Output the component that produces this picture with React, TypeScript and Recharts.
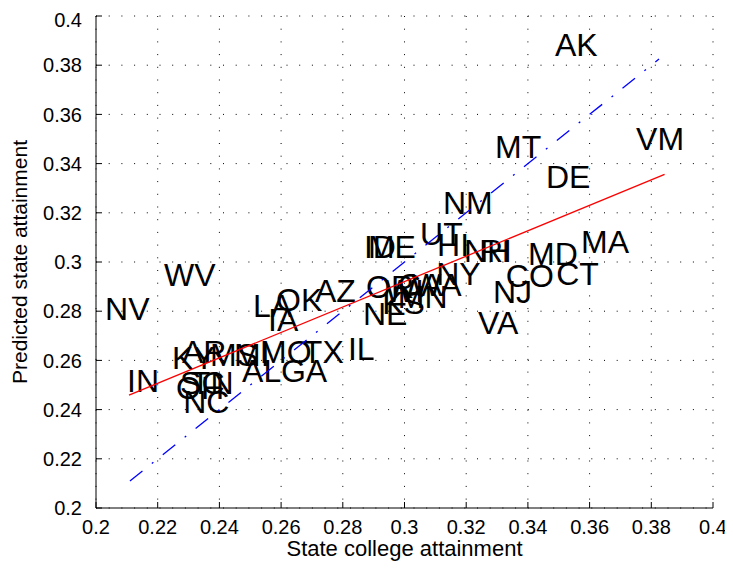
import React from 'react';
import { ScatterChart, Scatter, XAxis, YAxis, CartesianGrid, Label } from 'recharts';

const FONT = '"Liberation Sans", Arial, Helvetica, sans-serif';

const stateCodes = ['AK','VM','MT','DE','NM','UT','HI','NH','RI','MD','MA','CO','CT','NJ','VA','NY','ID','ME','OR','CA','WI','WA','KS','MN','NE','AZ','OK','LA','IA','WV','NV','IN','KY','AR','MS','MI','MO','TX','IL','AL','GA','SC','OH','TN','NC'];
const collegeAttainment = [0.3494,0.3757,0.3300,0.3465,0.3131,0.3057,0.3112,0.3199,0.3251,0.3407,0.3579,0.3335,0.3498,0.3293,0.3245,0.3109,0.2875,0.2888,0.2882,0.2985,0.2943,0.3028,0.2934,0.2985,0.2872,0.2716,0.2590,0.2515,0.2564,0.2227,0.2036,0.2107,0.2253,0.2285,0.2376,0.2454,0.2538,0.2677,0.2823,0.2480,0.2606,0.2279,0.2266,0.2314,0.2289];
const predictedAttainment = [0.3885,0.3502,0.3470,0.3348,0.3240,0.3115,0.3071,0.3045,0.3045,0.3033,0.3083,0.2945,0.2953,0.2878,0.2754,0.2953,0.3061,0.3061,0.2902,0.2907,0.2882,0.2907,0.2837,0.2858,0.2791,0.2886,0.2846,0.2825,0.2768,0.2947,0.2811,0.2520,0.2610,0.2634,0.2622,0.2622,0.2634,0.2634,0.2650,0.2557,0.2557,0.2508,0.2488,0.2508,0.2431];

const fitLineX = [0.2107, 0.3843];
const fitLineY = [0.2459, 0.3356];
const identityLineX = [0.211, 0.3825];

const xTicks = [0.2, 0.22, 0.24, 0.26, 0.28, 0.3, 0.32, 0.34, 0.36, 0.38, 0.4];
const yTicks = [0.2, 0.22, 0.24, 0.26, 0.28, 0.3, 0.32, 0.34, 0.36, 0.38, 0.4];

const labelData = stateCodes.map((s, i) => ({ state: s, x: collegeAttainment[i], y: predictedAttainment[i] }));
const fitData = fitLineX.map((x, i) => ({ x, y: fitLineY[i] }));
const identityData = identityLineX.map((x) => ({ x, y: x }));

const renderLabel = (props: any) => {
  const { cx, cy, payload } = props;
  return (
    <text x={cx} y={cy} dx={-2} dy="0.358em" fontSize={32} fontFamily={FONT} fill="#000">
      {payload.state}
    </text>
  );
};

const noShape = () => <g />;

export default function App() {
  return (
    <ScatterChart width={725} height={563} margin={{ top: 8, right: 20, left: 0, bottom: 33 }}>
      <CartesianGrid stroke="#000" strokeDasharray="1 11.7" strokeWidth={1} />
      <XAxis
        type="number"
        dataKey="x"
        domain={[0.2, 0.4]}
        ticks={xTicks}
        height={30}
        tickSize={-6}
        tickMargin={18}
        axisLine={{ stroke: '#000' }}
        tickLine={{ stroke: '#000' }}
        tick={{ fill: '#000', fontSize: 20, fontFamily: FONT }}
        allowDataOverflow
      >
        <Label value="State college attainment" position="bottom" offset={2} style={{ fill: '#000', fontSize: 22, fontFamily: FONT }} />
      </XAxis>
      <YAxis
        type="number"
        dataKey="y"
        domain={[0.2, 0.4]}
        ticks={yTicks}
        width={88}
        tickSize={-6}
        tickMargin={20}
        axisLine={{ stroke: '#000' }}
        tickLine={{ stroke: '#000' }}
        tick={{ fill: '#000', fontSize: 20, fontFamily: FONT }}
        allowDataOverflow
      >
        <Label value="Predicted state attainment" angle={-90} position="insideLeft" offset={12} style={{ fill: '#000', fontSize: 21, fontFamily: FONT, textAnchor: 'middle' }} />
      </YAxis>
      <Scatter data={labelData} shape={renderLabel} isAnimationActive={false} />
      <Scatter data={fitData} shape={noShape} line={{ stroke: '#ff0000', strokeWidth: 1.3 }} isAnimationActive={false} />
      <Scatter data={identityData} shape={noShape} line={{ stroke: '#0000ff', strokeWidth: 1.3, strokeDasharray: '16 12 2 12' }} isAnimationActive={false} />
    </ScatterChart>
  );
}
